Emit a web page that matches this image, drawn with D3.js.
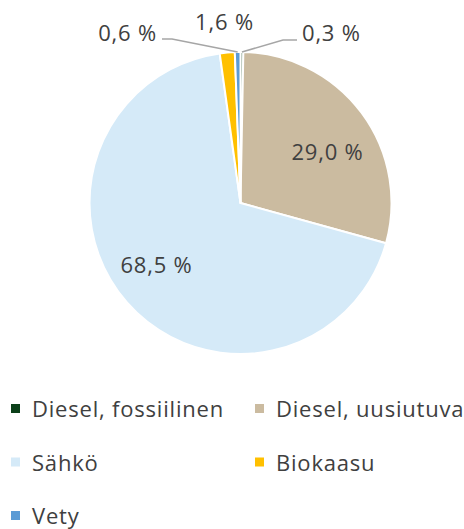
<!DOCTYPE html>
<html>
<head>
<meta charset="utf-8">
<script src="https://cdn.jsdelivr.net/npm/d3@7"></script>
<style>
  body { margin: 0; background: #fff; }
  text { font-family: "Open Sans", "Noto Sans", sans-serif; fill: #404040; letter-spacing: 0.8px; }
</style>
</head>
<body>
<div id="viz"></div>
<script>
var categories = ['Diesel, fossiilinen', 'Diesel, uusiutuva', 'Sähkö', 'Biokaasu', 'Vety'];
var shares = [0.3, 29.0, 68.5, 1.6, 0.6];
var sliceColors = ['#0b4019', '#cbbba0', '#d5eaf8', '#ffc000', '#5b9bd5'];

var width = 464,
    height = 529,
    cx = 240.5,
    cy = 203,
    radius = 151;

// label spots, the small slices have their labels pulled out with a leader line
var labelPos = [
    { x: 302, y: 41, anchor: 'start', leader: [[297, 40], [283, 40]] },
    { x: 327.5, y: 160, anchor: 'middle' },
    { x: 156.5, y: 273, anchor: 'middle' },
    { x: 224.5, y: 30, anchor: 'middle' },
    { x: 157, y: 41, anchor: 'end', leader: [[162, 39], [172, 39]] }
];

var svg = d3.select('#viz').append('svg')
    .attr('width', width)
    .attr('height', height);

var pie = d3.pie().sort(null).value(function (d) { return d; });
var arcs = pie(shares);

var arc = d3.arc().innerRadius(0).outerRadius(radius);

var g = svg.append('g')
    .attr('transform', 'translate(' + cx + ',' + cy + ')');

g.selectAll('path').data(arcs)
    .enter().append('path')
    .attr('d', arc)
    .attr('fill', function (d, i) { return sliceColors[i]; })
    .attr('stroke', '#fff')
    .attr('stroke-width', 2)
    .attr('stroke-linejoin', 'round');

// leader lines
var outer = d3.arc().innerRadius(radius).outerRadius(radius);
arcs.forEach(function (d, i) {
    var lp = labelPos[i];
    if (!lp.leader) return;
    var c = outer.centroid(d);
    var pts = lp.leader.concat([[c[0] + cx, c[1] + cy]]);
    svg.append('path')
        .attr('d', d3.line()(pts))
        .attr('fill', 'none')
        .attr('stroke', '#a6a6a6')
        .attr('stroke-width', 1.5);
});

svg.selectAll('text.lbl').data(arcs)
    .enter().append('text')
    .attr('class', 'lbl')
    .attr('x', function (d, i) { return labelPos[i].x; })
    .attr('y', function (d, i) { return labelPos[i].y; })
    .attr('text-anchor', function (d, i) { return labelPos[i].anchor; })
    .style('font-size', '22px')
    .text(function (d) { return d3.format('.1f')(d.data).replace('.', ',') + ' %'; });

// legend
var legend = svg.append('g');
var item = legend.selectAll('g').data(categories)
    .enter().append('g')
    .attr('transform', function (d, i) {
        var col = i % 2, row = Math.floor(i / 2);
        return 'translate(' + (col === 0 ? 11 : 255) + ',' + (404 + row * 53.5) + ')';
    });
item.append('rect')
    .attr('width', 9)
    .attr('height', 9)
    .attr('fill', function (d, i) { return sliceColors[i]; });
item.append('text')
    .attr('x', 21)
    .attr('y', 13)
    .style('font-size', '22px')
    .text(function (d) { return d; });
</script>
</body>
</html>
